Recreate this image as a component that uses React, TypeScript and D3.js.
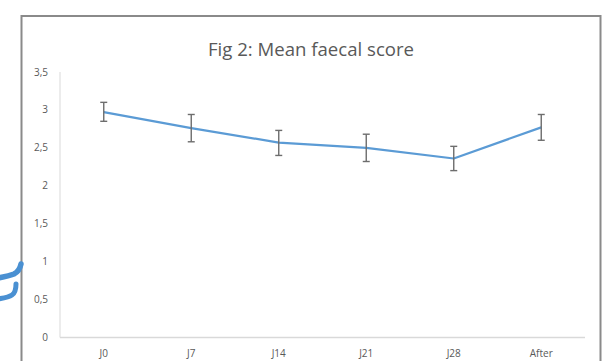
import React from "react";
import * as d3 from "d3";

const categories = ["J0", "J7", "J14", "J21", "J28", "After"];
const means = [2.97, 2.76, 2.57, 2.5, 2.36, 2.77];
const errUpper = [3.1, 2.94, 2.73, 2.68, 2.52, 2.94];
const errLower = [2.85, 2.58, 2.4, 2.32, 2.2, 2.6];
const yTicks = [0, 0.5, 1, 1.5, 2, 2.5, 3, 3.5];
const titleText = "Fig 2: Mean faecal score";

const W = 607;
const H = 361;
const plot = { left: 60, right: 585, top: 72, bottom: 337.5 };
const FONT = "'Open Sans', 'Liberation Sans', sans-serif";
const TEXT = "#595959";

export default function App() {
  const x = d3
    .scaleBand<string>()
    .domain(categories)
    .range([plot.left, plot.right])
    .paddingInner(0)
    .paddingOuter(0);
  const y = d3.scaleLinear().domain([0, 3.5]).range([plot.bottom, plot.top]);
  const cx = (c: string) => (x(c) as number) + x.bandwidth() / 2;

  const line = d3
    .line<number>()
    .x((_, i) => cx(categories[i]))
    .y((d) => y(d))
    .curve(d3.curveLinear);

  const fmt = (v: number) => String(v).replace(".", ",");

  return (
    <svg
      width={W}
      height={H}
      style={{ position: "absolute", left: 0, top: 0, background: "#fff" }}
      fontFamily={FONT}
    >
      {/* frame */}
      <path
        d={`M21.5,${H + 2} L21.5,16 L600.5,16 L600.5,${H + 2}`}
        fill="none"
        stroke="#8a8a8a"
        strokeWidth={2}
      />
      {/* hand-drawn scribbles at left */}
      <path
        d="M-2,278 C4,277 9,276 14,274 C18,272 20,269 21,264"
        fill="none"
        stroke="#4a90d2"
        strokeWidth={5.5}
        strokeLinecap="round"
      />
      <path
        d="M-2,299 C4,298 9,297 12,295 C15,293 16,289 16,284"
        fill="none"
        stroke="#4a90d2"
        strokeWidth={5}
        strokeLinecap="round"
      />

      {/* title */}
      <text
        x={311}
        y={56}
        textAnchor="middle"
        fontSize={18.6}
        fill={TEXT}
      >
        {titleText}
      </text>

      {/* axes */}
      <line
        x1={plot.left}
        x2={plot.left}
        y1={plot.top}
        y2={plot.bottom}
        stroke="#d9d9d9"
        strokeWidth={1}
      />
      <line
        x1={plot.left}
        x2={plot.right}
        y1={plot.bottom}
        y2={plot.bottom}
        stroke="#d9d9d9"
        strokeWidth={1.3}
      />

      {yTicks.map((t) => (
        <text
          key={t}
          x={48}
          y={y(t)}
          dy="0.35em"
          textAnchor="end"
          fontSize={10}
          fill={TEXT}
        >
          {fmt(t)}
        </text>
      ))}

      {categories.map((c) => (
        <text
          key={c}
          x={cx(c)}
          y={357}
          textAnchor="middle"
          fontSize={10}
          fill={TEXT}
        >
          {c}
        </text>
      ))}

      {/* series line */}
      <path
        d={line(means) || ""}
        fill="none"
        stroke="#5b9bd5"
        strokeWidth={2.2}
        strokeLinejoin="round"
      />

      {/* error bars */}
      {categories.map((c, i) => {
        const xc = cx(c);
        const yt = y(errUpper[i]);
        const yb = y(errLower[i]);
        return (
          <g key={c} stroke="#6d6d6d" strokeWidth={1.4}>
            <line x1={xc} x2={xc} y1={yt} y2={yb} />
            <line x1={xc - 3.5} x2={xc + 3.5} y1={yt} y2={yt} />
            <line x1={xc - 3.5} x2={xc + 3.5} y1={yb} y2={yb} />
          </g>
        );
      })}
    </svg>
  );
}
